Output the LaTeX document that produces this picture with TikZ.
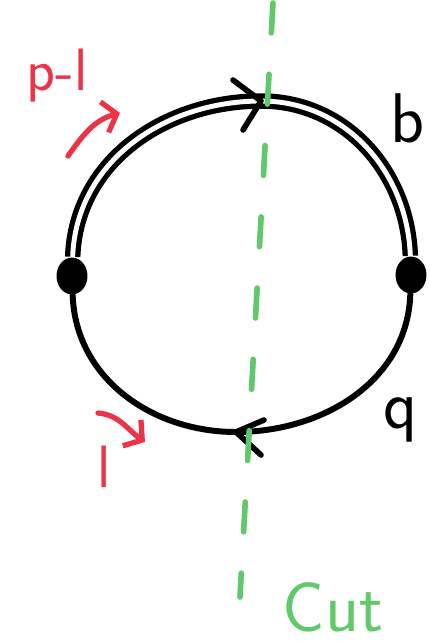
\documentclass[tikz,border=0pt]{standalone}
\usepackage{xcolor}
\usepackage{tikz}
\usetikzlibrary{arrows.meta,shapes.geometric}
\definecolor{penred}{RGB}{236,52,72}
\definecolor{cutgreen}{RGB}{98,200,108}
\tikzset{
  vertex/.style  = {ellipse, fill=black, draw=none, minimum width=8.8pt,
                    minimum height=10.5pt, inner sep=0pt},
  prop/.style    = {line width=1.7pt, black, line cap=round},
  dprop/.style   = {draw=black, double=white, line width=1.5pt,
                    double distance=1.4pt},
  chev/.style    = {line width=1.6pt, black, line cap=round, line join=round},
  cutline/.style = {line width=1.6pt, cutgreen, line cap=round,
                    dash pattern=on 8.5pt off 11.8pt},
  mom/.style     = {-{Straight Barb[length=3.6pt,width=9pt,line width=1.5pt]},
                    line width=1.5pt, penred, line cap=round},
  lab/.style     = {font=\sffamily\fontsize{20}{20}\selectfont, inner sep=0pt},
  momlab/.style  = {font=\sffamily\fontsize{17}{17}\selectfont, inner sep=0pt,
                    text=penred},
}
\begin{document}
\begin{tikzpicture}[x=0.01cm,y=-0.01cm]
\useasboundingbox (0,0) rectangle (429,641);
% vertices and loop
\node[vertex] (vl) at (72,276) {};
\node[vertex] (vr) at (411,275) {};
\coordinate (top) at (261,101);
\coordinate (bot) at (236,432);
\draw[dprop] (vl) to[out=88,in=180] (top) to[out=0,in=92] (vr);
\draw[prop] (vl) to[out=-88,in=180] (bot) to[out=0,in=-92] (vr);
\draw[chev] (top) ++(-28,-21) -- (top) -- ++(-18,29);
\draw[chev] (bot) ++(28,-12) -- (bot) -- ++(25,23);
% cut
\coordinate (cuttop) at (273,3);
\coordinate (cutbot) at (240,597);
\draw[cutline] (cuttop) -- (cutbot);
\node[lab, text=cutgreen] (cut) at (333,607) {Cut};
% momenta
\coordinate (m1a) at (68,156);
\coordinate (m1b) at (120,113);
\draw[mom] (m1a) to[out=55,in=195] (m1b);
\node[momlab] (pl) at (57,76) {p-l};
\coordinate (m2a) at (98,413);
\coordinate (m2b) at (145,442);
\draw[mom] (m2a) to[out=-5,in=145] (m2b);
\node[momlab] (l) at (104,467) {l};
\node[lab] (b) at (408,118) {b};
\node[lab] (q) at (401,420) {q};
\end{tikzpicture}
\end{document}
